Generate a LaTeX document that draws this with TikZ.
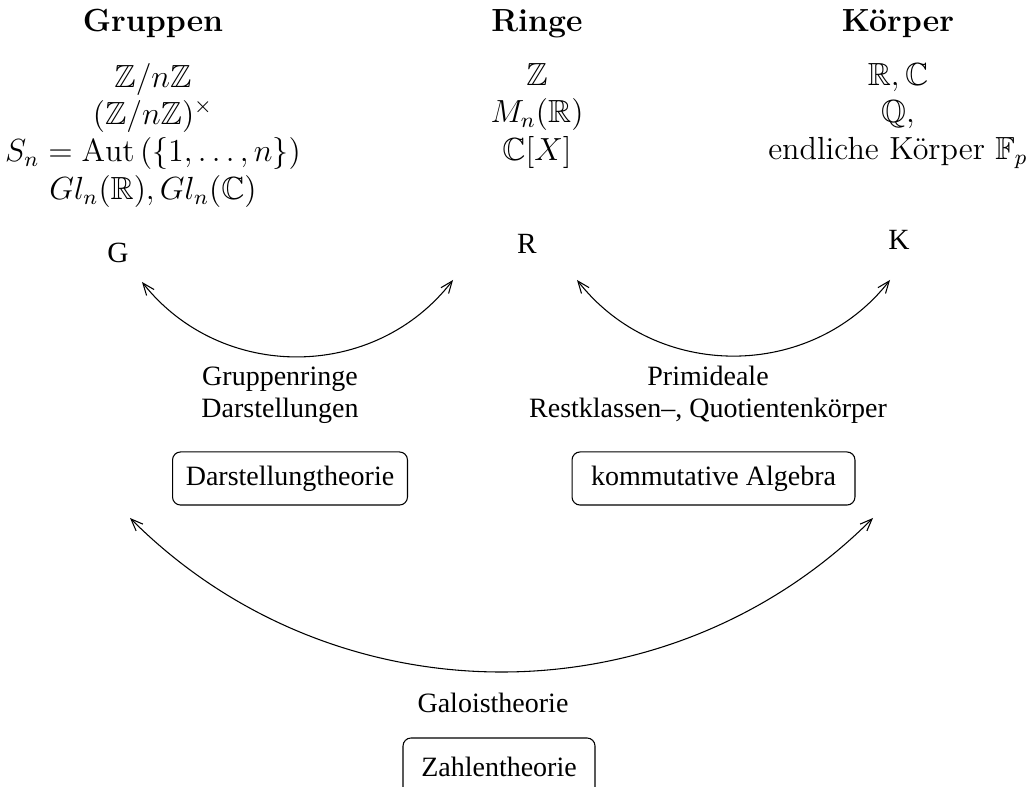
\documentclass[tikz,border=0pt]{standalone}
\usepackage{amsmath}
\usepackage{amssymb}
\usepackage{fontspec}
\usetikzlibrary{arrows.meta, positioning}
\newfontfamily\timesfont[Ligatures = TeX]{Liberation Serif}
\tikzset{> = { Straight Barb[length = 4.5pt, width = 3.6pt] }}

\begin{document}
\begin{tikzpicture}[x = 0.375pt, y = 0.375pt, thin, heading/.style = { font = \fontsize{12}{14}\selectfont\bfseries, inner sep = 0pt }, examples/.style = { font = \fontsize{12}{14}\selectfont, align = center, inner sep = 0pt }, letter/.style = { font = \timesfont\fontsize{11}{13}\selectfont, inner sep = 0pt }, remark/.style = { font = \timesfont\fontsize{10.5}{12}\selectfont, align = center, inner sep = 0pt }, theory/.style = { draw, rounded corners = 3pt, font = \timesfont\fontsize{10.5}{12}\selectfont, minimum height = 19.9pt, inner sep = 0pt }]
				\useasboundingbox (0,0) rectangle (1031,787);

				\node [heading, anchor = base] (grp) at (153,755) {Gruppen};
				\node [heading, anchor = base] (rng) at (537,755) {Ringe};
				\node [heading, anchor = base] (kpr) at (898,755) {Körper};

				\node [examples, below = 9pt of grp] (grpex) {\(\mathbb{Z}/n\mathbb{Z}\)\\\((\mathbb{Z}/n\mathbb{Z})^\times\)\\\(S_n = \mathrm{Aut}\left(\{1,\ldots,n\}\right)\)\\\(Gl_n(\mathbb{R}), Gl_n(\mathbb{C})\)};
				\node [examples, below = 9pt of rng] (rngex) {\(\mathbb{Z}\)\\\(M_n(\mathbb{R})\)\\\(\mathbb{C}[X]\)};
				\node [examples, below = 9pt of kpr] (kprex) {\(\mathbb{R}, \mathbb{C}\)\\\(\mathbb{Q}\),\\endliche Körper \(\mathbb{F}_p\)};

				\node [letter, anchor = base] (G) at (118,524) {G};
				\node [letter, anchor = base] (R) at (527,533) {R};
				\node [letter, anchor = base] (K) at (899,537) {K};

				\coordinate (gr1) at (142,505);
				\coordinate (gr2) at (453,507);
				\coordinate (rk1) at (577,507);
				\coordinate (rk2) at (890,507);
				\coordinate (gk1) at (130,269);
				\coordinate (gk2) at (873,269);

				\draw [<->] (gr1) to[bend right = 52, looseness = 1.05] (gr2);
				\draw [<->] (rk1) to[bend right = 52, looseness = 1.05] (rk2);
				\draw [<->] (gk1) to[bend right = 45] (gk2);

				\node [remark, anchor = north] (grlab) at (280,421) {Gruppenringe\\Darstellungen};
				\node [remark, anchor = north] (rklab) at (708,421) {Primideale\\Restklassen--, Quotientenkörper};
				\node [remark, anchor = base] (gklab) at (493,74) {Galoistheorie};

				\node [theory, minimum width = 88.1pt] (darst) at (290,308.5) {Darstellungtheorie};
				\node [theory, minimum width = 106.1pt] (komm) at (713.5,308.5) {kommutative Algebra};
				\node [theory, minimum width = 72pt, minimum height = 21.75pt] (zahl) at (499,20) {Zahlentheorie};
			\end{tikzpicture}
\end{document}
